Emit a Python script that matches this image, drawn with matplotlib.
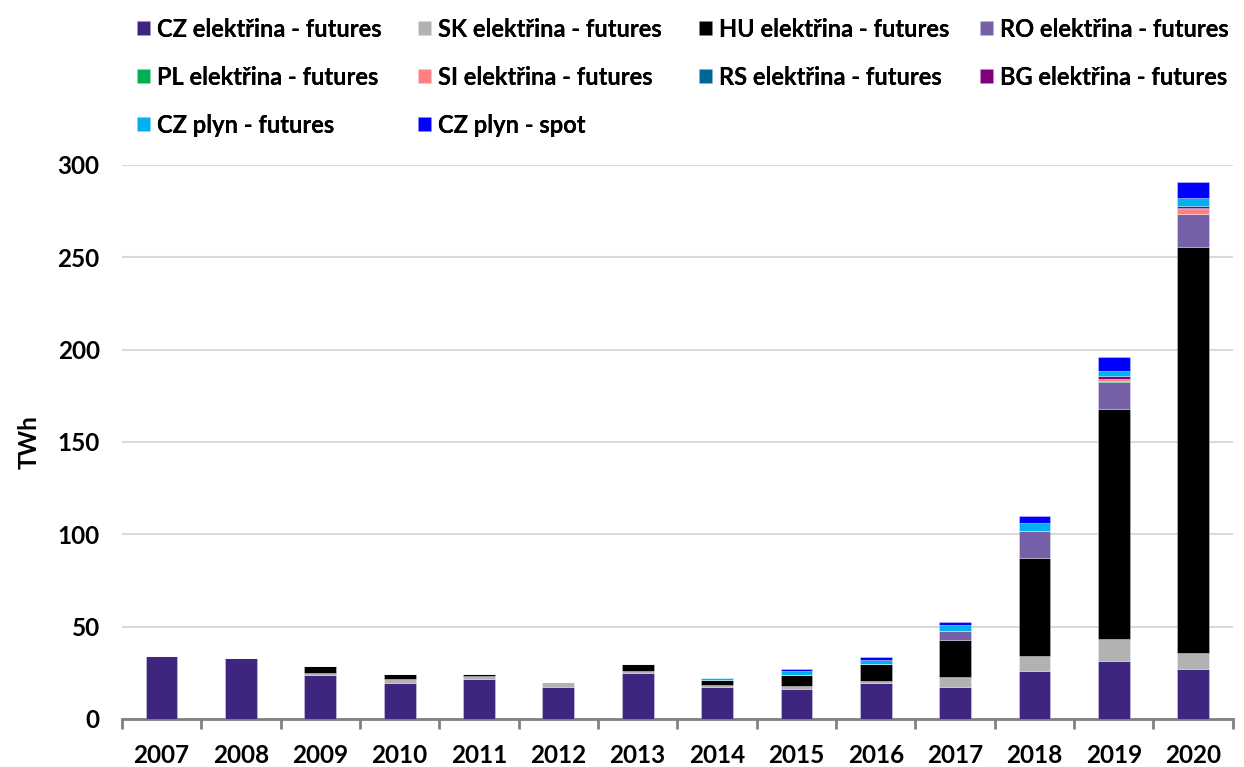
import numpy as np
import matplotlib
matplotlib.use('Agg')
import matplotlib.pyplot as plt

plt.rcParams['font.family'] = ['Lato', 'DejaVu Sans']
plt.rcParams['font.weight'] = 'bold'

## Data

years = ['2007', '2008', '2009', '2010', '2011', '2012', '2013',
         '2014', '2015', '2016', '2017', '2018', '2019', '2020']

cz_el = [34.3, 32.9, 24.0, 19.7, 21.8, 17.5, 25.1, 17.5, 16.2, 19.7, 17.1, 26.0, 31.2, 26.9]
sk_el = [0, 0, 1.1, 1.8, 1.5, 2.4, 0.9, 0.9, 1.8, 0.9, 5.4, 7.9, 11.9, 8.8]
hu_el = [0, 0, 3.6, 2.9, 1.1, 0.3, 3.8, 2.9, 5.6, 9.3, 20.4, 53.1, 124.6, 220.1]
ro_el = [0, 0, 0, 0, 0, 0, 0, 0, 0, 0, 4.9, 14.9, 14.8, 17.4]
pl_el = [0, 0, 0, 0, 0, 0, 0, 0, 0, 0, 0, 0, 0.3, 0.3]
si_el = [0, 0, 0, 0, 0, 0, 0, 0, 0, 0, 0, 0, 1.2, 2.7]
rs_el = [0, 0, 0, 0, 0, 0, 0, 0, 0, 0, 0, 0, 0.2, 0.3]
bg_el = [0, 0, 0, 0, 0, 0, 0, 0, 0, 0, 0, 0, 1.7, 1.3]
cz_gas_fut = [0, 0, 0, 0, 0, 0, 0, 0.9, 2.2, 1.9, 3.1, 4.4, 2.8, 4.1]
cz_gas_spot = [0, 0, 0, 0, 0, 0, 0, 0, 1.3, 1.6, 1.4, 3.6, 7.1, 9.1]

series = [
    ('CZ elektřina - futures', cz_el, '#3D2580'),
    ('SK elektřina - futures', sk_el, '#B2B2B2'),
    ('HU elektřina - futures', hu_el, '#000000'),
    ('RO elektřina - futures', ro_el, '#7660A8'),
    ('PL elektřina - futures', pl_el, '#00B050'),
    ('SI elektřina - futures', si_el, '#FF8080'),
    ('RS elektřina - futures', rs_el, '#006699'),
    ('BG elektřina - futures', bg_el, '#800080'),
    ('CZ plyn - futures', cz_gas_fut, '#00B0F0'),
    ('CZ plyn - spot', cz_gas_spot, '#0000FF'),
]

## Plot

fig = plt.figure(figsize=(12.44, 7.67), dpi=100)
ax = fig.add_axes([0.098, 0.0626, 0.893, 0.7223])

x = np.arange(len(years))
bottom = np.zeros(len(years))
handles = []
for label, vals, color in series:
    vals = np.array(vals, dtype=float)
    b = ax.bar(x, vals, 0.4, bottom=bottom, color=color, label=label,
               edgecolor=(1, 1, 1, 0.35), linewidth=0.6, zorder=3)
    handles.append(b)
    bottom += vals

ax.set_xlim(-0.5, len(years) - 0.5)
ax.set_ylim(0, 300)
ax.set_yticks([0, 50, 100, 150, 200, 250, 300])
ax.yaxis.grid(True, color='#D9D9D9', linewidth=1.5, zorder=0)
ax.set_axisbelow(True)

for s in ['top', 'right', 'left']:
    ax.spines[s].set_visible(False)
ax.spines['bottom'].set_color('#808080')
ax.spines['bottom'].set_linewidth(2)

ax.set_xticks(x)
ax.set_xticklabels(years)
ax.set_xticks(np.arange(-0.5, len(years)), minor=True)
ax.tick_params(axis='x', which='major', length=0, labelsize=17.5, pad=18)
ax.tick_params(axis='x', which='minor', length=7, width=2, color='#808080')
ax.tick_params(axis='y', length=0, labelsize=17.5, pad=16)
ax.set_ylabel('TWh', fontsize=17.5, fontweight='bold', labelpad=12)

# legend: one legend per column so columns sit at fixed pitch like the original
for c in range(4):
    idx = [i for i in (c, c + 4, c + 8) if i < len(series)]
    leg = fig.legend([handles[i] for i in idx], [series[i][0] for i in idx],
                     loc='upper left', bbox_to_anchor=((137 + 281 * c) / 1244, 0.977),
                     frameon=False, fontsize=17, handlelength=0.55, handleheight=0.55,
                     handletextpad=0.3, labelspacing=1.06, borderpad=0,
                     borderaxespad=0)
    fig.add_artist(leg)

fig.savefig('out.png', dpi=100)
